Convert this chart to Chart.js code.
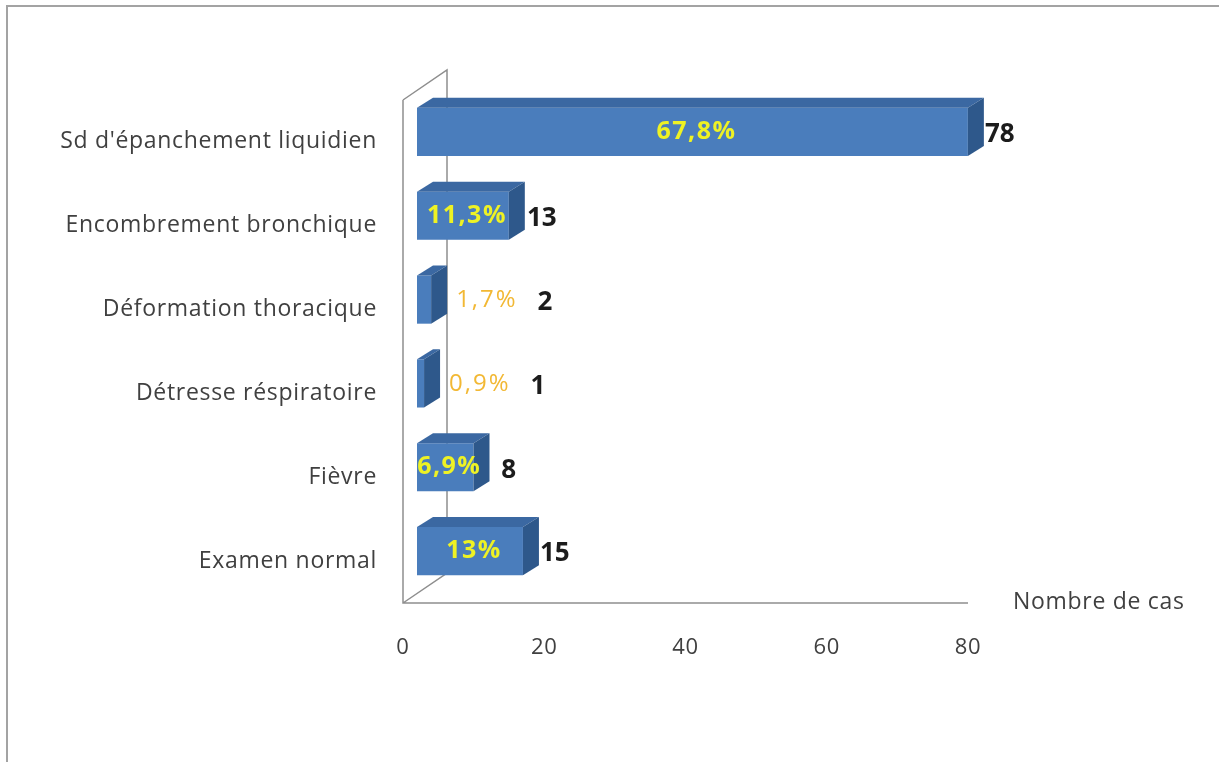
<!DOCTYPE html>
<html>
<head>
<meta charset="utf-8">
<script src="https://cdn.jsdelivr.net/npm/chart.js@4.4.1/dist/chart.umd.min.js"></script>
<style>
  html, body { margin: 0; padding: 0; background: #ffffff; overflow: hidden; }
  #wrap { position: relative; width: 1219px; height: 762px; }
</style>
</head>
<body>
<div id="wrap"><canvas id="c" width="1219" height="762"></canvas></div>
<script>
// Signes cliniques : nombre de cas et part de chaque signe
const categories = [
  "Sd d'épanchement liquidien",
  "Encombrement bronchique",
  "Déformation thoracique",
  "Détresse réspiratoire",
  "Fièvre",
  "Examen normal"
];
const cases = [78, 13, 2, 1, 8, 15];
const shares = ['67,8%', '11,3%', '1,7%', '0,9%', '6,9%', '13%'];
const xTickValues = [0, 20, 40, 60, 80];
const xMax = 80;
const axisTitle = 'Nombre de cas';

const FONT = '"Open Sans", "Noto Sans", sans-serif';
const BOX_DEPTH = { x: 44, y: -30 };   // depth of the 3D frame
const BAR_SHIFT = { x: 14, y: -10 };   // bars sit inside the frame
const BAR_DEPTH = { x: 16, y: -10 };   // thickness of each bar
const COL_FRONT = '#4a7dbc';
const COL_TOP = '#3b68a2';
const COL_SIDE = '#2e588b';
const COL_WALL = '#8e8e8e';

function barFaces(ctx, el) {
  const x0 = el.base, x1 = el.x;
  const y0 = el.y - el.height / 2, y1 = el.y + el.height / 2;
  const dx = BAR_DEPTH.x, dy = BAR_DEPTH.y;
  // top face
  ctx.fillStyle = COL_TOP;
  ctx.beginPath();
  ctx.moveTo(x0, y0);
  ctx.lineTo(x1, y0);
  ctx.lineTo(x1 + dx, y0 + dy);
  ctx.lineTo(x0 + dx, y0 + dy);
  ctx.closePath();
  ctx.fill();
  // right side face
  ctx.fillStyle = COL_SIDE;
  ctx.beginPath();
  ctx.moveTo(x1, y0);
  ctx.lineTo(x1 + dx, y0 + dy);
  ctx.lineTo(x1 + dx, y1 + dy);
  ctx.lineTo(x1, y1);
  ctx.closePath();
  ctx.fill();
}

const box3d = {
  id: 'box3d',
  beforeDraw(chart) {
    // slightly open tracking for the axis labels
    chart.ctx.letterSpacing = '0.7px';
  },
  beforeDatasetsDraw(chart) {
    const { ctx, chartArea: a } = chart;
    ctx.letterSpacing = '0px';
    ctx.save();
    ctx.strokeStyle = COL_WALL;
    ctx.lineWidth = 1.5;
    ctx.beginPath();
    ctx.moveTo(a.left, a.top);
    ctx.lineTo(a.left, a.bottom);
    ctx.lineTo(a.right, a.bottom);
    ctx.moveTo(a.left, a.top);
    ctx.lineTo(a.left + BOX_DEPTH.x, a.top + BOX_DEPTH.y);
    ctx.lineTo(a.left + BOX_DEPTH.x, a.bottom + BOX_DEPTH.y);
    ctx.lineTo(a.left, a.bottom);
    ctx.stroke();
    ctx.restore();
  },
  beforeDatasetDraw(chart) {
    chart.ctx.save();
    chart.ctx.translate(BAR_SHIFT.x, BAR_SHIFT.y);
  },
  afterDatasetDraw(chart, args) {
    const ctx = chart.ctx;
    args.meta.data.forEach(el => barFaces(ctx, el));
    ctx.restore();
  },
  afterDraw(chart) {
    const { ctx } = chart;
    const meta = chart.getDatasetMeta(0);
    ctx.save();
    ctx.textBaseline = 'middle';
    meta.data.forEach((el, i) => {
      const faceL = el.base + BAR_SHIFT.x;
      const faceR = el.x + BAR_SHIFT.x;
      const cy = el.y + BAR_SHIFT.y;
      const sideEnd = faceR + BAR_DEPTH.x;
      let pctRight;
      if (cases[i] >= 5) {
        ctx.font = 'bold 25px ' + FONT;
        ctx.letterSpacing = '1.5px';
        ctx.fillStyle = '#eef224';
        ctx.textAlign = 'center';
        const cx = (faceL + faceR) / 2 + 4;
        ctx.fillText(shares[i], cx, cy);
        pctRight = cx + ctx.measureText(shares[i]).width / 2;
      } else {
        ctx.font = '24px ' + FONT;
        ctx.letterSpacing = '2px';
        ctx.fillStyle = '#f2b834';
        ctx.textAlign = 'left';
        const lx = sideEnd + 9;
        ctx.fillText(shares[i], lx, cy + 1);
        pctRight = lx + ctx.measureText(shares[i]).width;
      }
      ctx.letterSpacing = '0px';
      ctx.font = 'bold 26px ' + FONT;
      ctx.fillStyle = '#1c1c1c';
      ctx.textAlign = 'left';
      const vx = Math.max(sideEnd + 1, pctRight + 20);
      ctx.fillText(String(cases[i]), vx, cy + 3);
    });
    // axis title at the end of the floor
    ctx.font = '23px ' + FONT;
    ctx.letterSpacing = '0.7px';
    ctx.fillStyle = '#404040';
    ctx.textAlign = 'left';
    ctx.fillText(axisTitle, 1013, 602);
    ctx.letterSpacing = '0px';
    // outer frame
    ctx.strokeStyle = '#a3a3a3';
    ctx.lineWidth = 2;
    ctx.beginPath();
    ctx.moveTo(7, 762);
    ctx.lineTo(7, 6);
    ctx.lineTo(1219, 6);
    ctx.stroke();
    ctx.restore();
  }
};

new Chart(document.getElementById('c'), {
  type: 'bar',
  data: {
    labels: categories,
    datasets: [{
      data: cases,
      backgroundColor: COL_FRONT,
      borderWidth: 0,
      barPercentage: 0.575,
      categoryPercentage: 1
    }]
  },
  options: {
    indexAxis: 'y',
    responsive: false,
    animation: false,
    events: [],
    layout: { padding: { left: 0, right: 251, top: 100, bottom: 0 } },
    plugins: { legend: { display: false }, tooltip: { enabled: false } },
    scales: {
      x: {
        min: 0,
        max: xMax,
        afterBuildTicks: s => { s.ticks = xTickValues.map(v => ({ value: v })); },
        afterFit: s => { s.height = 159; },
        grid: { display: false, drawTicks: false },
        border: { display: false },
        ticks: { font: { family: FONT, size: 22 }, color: '#404040', padding: 32 }
      },
      y: {
        afterFit: s => { s.width = 403; },
        grid: { display: false, drawTicks: false },
        border: { display: false },
        ticks: { font: { family: FONT, size: 23 }, color: '#404040', padding: 26 }
      }
    }
  },
  plugins: [box3d]
});
</script>
</body>
</html>
